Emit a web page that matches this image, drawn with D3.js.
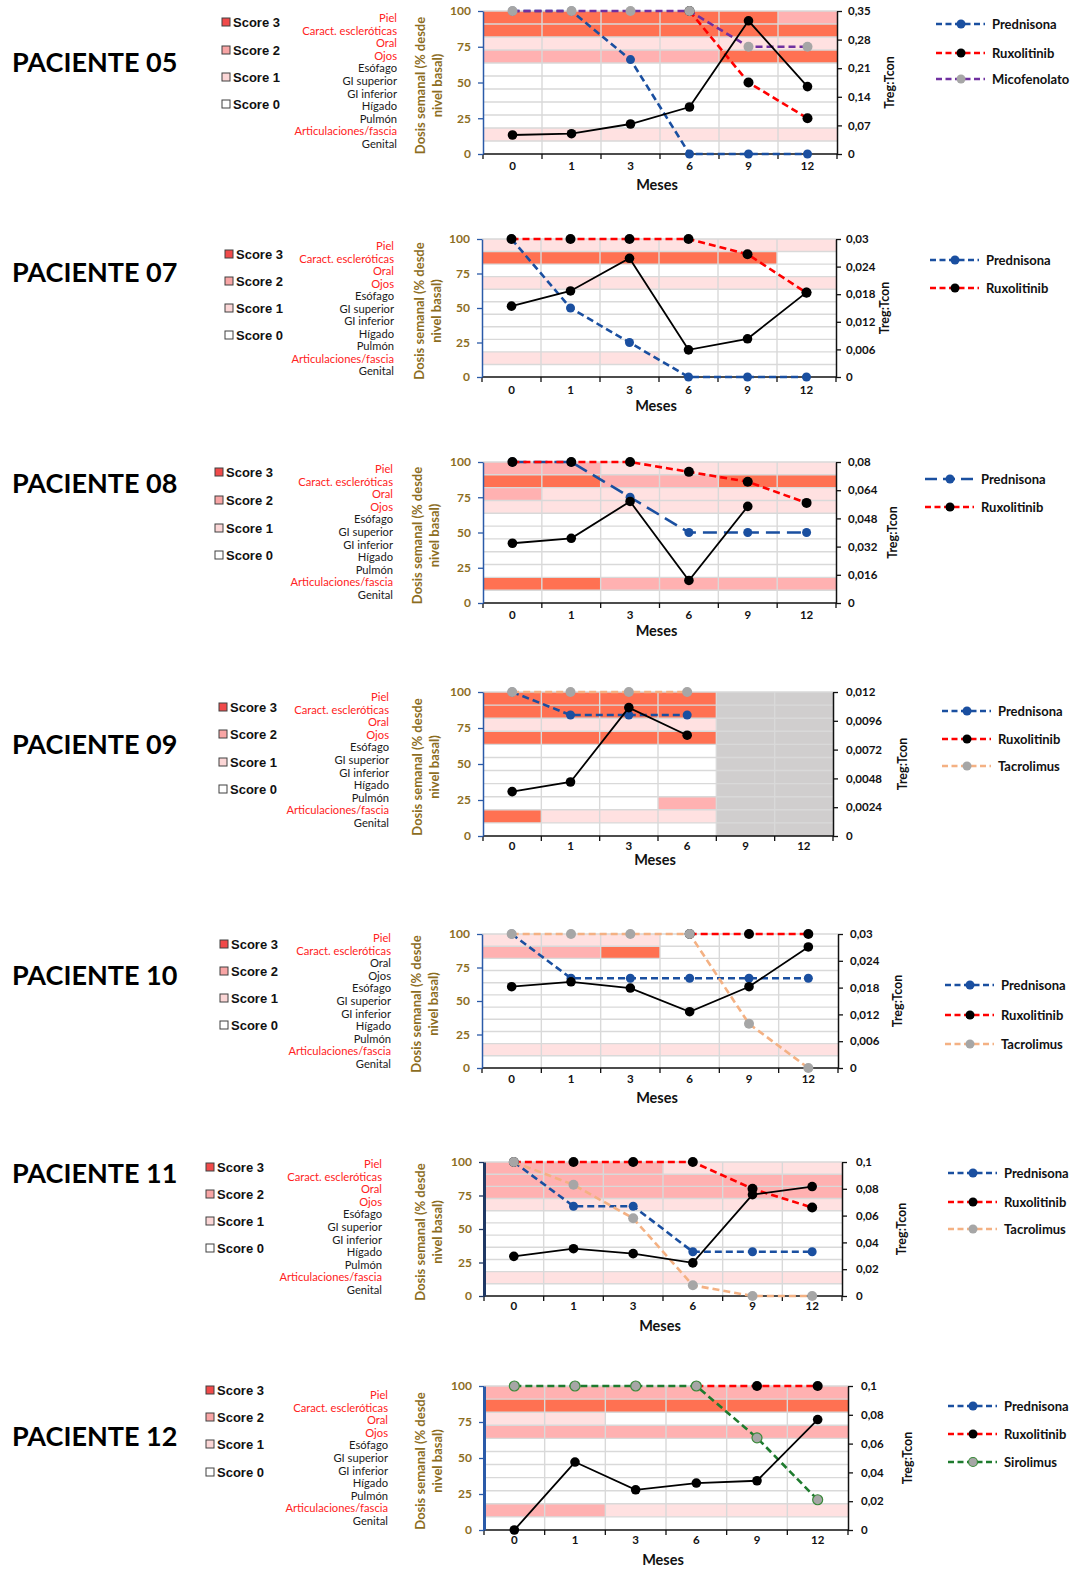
<!DOCTYPE html>
<html><head><meta charset="utf-8">
<script src="https://cdn.jsdelivr.net/npm/d3@7"></script>
<style>body{margin:0;background:#fff}</style>
</head><body><svg id="c" width="1075" height="1571"></svg>
<script>
// ---------- DATA ----------
const months = ["0","1","3","6","9","12"];
const organs = ["Piel","Caract. escleróticas","Oral","Ojos","Esófago","GI superior","GI inferior","Hígado","Pulmón","Articulaciones/fascia","Genital"];
const scoreLabels = ["Score 3","Score 2","Score 1","Score 0"];
const leftTicks = [0,25,50,75,100];
const Z = [0,0,0,0,0,0];

// Paciente 05
const p05Scores = [[3,3,3,3,3,2],[3,3,3,3,3,3],[1,1,1,1,1,1],[2,2,2,2,3,3],Z,Z,Z,Z,Z,[1,1,1,1,1,1],Z];
const p05Involved = [1,1,1,1,0,0,0,0,0,1,0];
const p05Treg = [0.0465,0.0497,0.0734,0.115,0.326,0.165];
const p05Prednisona = [100,100,66,0,0,0];
const p05Ruxolitinib = [null,null,null,100,50,25];
const p05Micofenolato = [100,100,100,100,75,75];
const p05RightTicks = [0,0.07,0.14,0.21,0.28,0.35];

// Paciente 07
const p07Scores = [[1,1,1,1,1,1],[3,3,3,3,3,0],Z,[1,1,1,1,1,1],Z,Z,Z,Z,Z,[1,1,1,0,0,0],Z];
const p07Involved = [1,1,1,1,0,0,0,0,0,1,0];
const p07Treg = [0.0154,0.0187,0.0258,0.0059,0.0083,0.0184];
const p07Prednisona = [100,50,25,0,0,0];
const p07Ruxolitinib = [100,100,100,100,89,61];
const p07RightTicks = [0,0.006,0.012,0.018,0.024,0.03];

// Paciente 08
const p08Scores = [[2,2,1,1,1,1],[3,3,2,2,3,3],[2,1,1,1,1,1],[1,1,1,1,1,1],Z,Z,Z,Z,Z,[3,3,2,2,2,2],Z];
const p08Involved = [1,1,1,1,0,0,0,0,0,1,0];
const p08Treg = [0.0339,0.0367,0.0576,0.0128,0.0548,null];
const p08Prednisona = [100,100,75,50,50,50];
const p08Ruxolitinib = [100,100,100,93,86,71];
const p08RightTicks = [0,0.016,0.032,0.048,0.064,0.08];

// Paciente 09 (-1 = sin datos)
const N = [0,0,0,0,-1,-1];
const p09Scores = [[3,3,3,3,-1,-1],[3,3,3,3,-1,-1],[1,1,1,1,-1,-1],[3,3,3,3,-1,-1],N,N,N,N,[0,0,0,2,-1,-1],[3,1,1,1,-1,-1],N];
const p09Involved = [1,1,1,1,0,0,0,0,0,1,0];
const p09Treg = [0.0037,0.0045,0.0107,0.0084,null,null];
const p09Prednisona = [100,84,84,84,null,null];
const p09Ruxolitinib = [null,null,null,null,null,null];
const p09Tacrolimus = [100,100,100,100,null,null];
const p09RightTicks = [0,0.0024,0.0048,0.0072,0.0096,0.012];

// Paciente 10
const p10Scores = [[1,1,1,0,0,0],[2,2,3,0,0,0],Z,Z,Z,Z,Z,Z,Z,[1,1,1,1,1,1],Z];
const p10Involved = [1,1,0,0,0,0,0,0,0,1,0];
const p10Treg = [0.0182,0.0193,0.0179,0.0126,0.0182,0.0271];
const p10Prednisona = [100,67,67,67,67,67];
const p10Ruxolitinib = [null,null,null,100,100,100];
const p10Tacrolimus = [100,100,100,100,33,0];
const p10RightTicks = [0,0.006,0.012,0.018,0.024,0.03];

// Paciente 11
const p11Scores = [[2,2,2,1,1,1],[2,2,2,2,2,2],[2,2,2,2,2,2],[1,1,1,1,1,1],Z,Z,Z,Z,Z,[1,1,1,1,1,1],Z];
const p11Involved = [1,1,1,1,0,0,0,0,0,1,0];
const p11Treg = [0.0296,0.0353,0.0316,0.0247,0.0756,0.0817];
const p11Prednisona = [100,67,67,33,33,33];
const p11Ruxolitinib = [100,100,100,100,80,66];
const p11Tacrolimus = [100,83,58,8,0,0];
const p11RightTicks = [0,0.02,0.04,0.06,0.08,0.1];

// Paciente 12
const p12Scores = [[2,2,2,2,2,2],[3,3,3,3,3,3],[1,1,0,0,0,0],[2,2,2,2,2,2],Z,Z,Z,Z,Z,[2,2,1,1,1,1],Z];
const p12Involved = [1,1,1,1,0,0,0,0,0,1,0];
const p12Treg = [0,0.0472,0.0279,0.0326,0.0342,0.0767];
const p12Prednisona = [null,null,null,null,null,null];
const p12Ruxolitinib = [null,null,null,100,100,100];
const p12Sirolimus = [100,100,100,100,64,21];
const p12RightTicks = [0,0.02,0.04,0.06,0.08,0.1];

// ---------- STYLES ----------
const drugStyle = {
  "Prednisona":   {line:"#1A4FA0", dot:"#1A4FA0", stroke:"none"},
  "Ruxolitinib":  {line:"#FF0000", dot:"#000000", stroke:"none"},
  "Micofenolato": {line:"#7030A0", dot:"#A6A6A6", stroke:"none"},
  "Tacrolimus":   {line:"#F4B183", dot:"#A6A6A6", stroke:"none"},
  "Sirolimus":    {line:"#1E7B2E", dot:"#A6A6A6", stroke:"#3A8A3A"}
};
const scoreColor = {"3":"#FF7152","2":"#FFB1B1","1":"#FFE1E1","0":"#FFFFFF","-1":"#D0CECE"};
const legendMarker = ["#F04A4A","#F8A5A5","#FBD6D6","#FFFFFF"];
const gold = "#8C6D1F";

const panels = [
 {id:"05", scores:p05Scores, inv:p05Involved, treg:p05Treg, rTicks:p05RightTicks,
  drugs:[["Prednisona",p05Prednisona],["Ruxolitinib",p05Ruxolitinib],["Micofenolato",p05Micofenolato]],
  L:{left:483,right:837,top:11,bottom:154,titleY:62,scoreX:222,scoreY:[22,50,77,104],orgX:397,orgY0:18,orgY1:144,yt:421,rtx:848,tregX:890,legX:936,legY:[24,53,79],xl:13,ms:31,axW:1.5}},
 {id:"07", scores:p07Scores, inv:p07Involved, treg:p07Treg, rTicks:p07RightTicks,
  drugs:[["Prednisona",p07Prednisona],["Ruxolitinib",p07Ruxolitinib]],
  L:{left:482,right:836,top:239,bottom:377,titleY:272,scoreX:225,scoreY:[254,281,308,335],orgX:394,orgY0:246,orgY1:371,yt:420,rtx:846,tregX:885,legX:930,legY:[260,288],xl:14,ms:29,axW:1.5}},
 {id:"08", scores:p08Scores, inv:p08Involved, treg:p08Treg, rTicks:p08RightTicks, predDash:"14,7",
  drugs:[["Prednisona",p08Prednisona],["Ruxolitinib",p08Ruxolitinib]],
  L:{left:483,right:836,top:462,bottom:603,titleY:483,scoreX:215,scoreY:[472,500,528,555],orgX:393,orgY0:469,orgY1:595,yt:418,rtx:848,tregX:893,legX:925,legY:[479,507],xl:13,ms:28,axW:1.5}},
 {id:"09", scores:p09Scores, inv:p09Involved, treg:p09Treg, rTicks:p09RightTicks,
  drugs:[["Prednisona",p09Prednisona],["Ruxolitinib",p09Ruxolitinib],["Tacrolimus",p09Tacrolimus]],
  L:{left:483,right:833,top:692,bottom:836,titleY:744,scoreX:219,scoreY:[707,734,762,789],orgX:389,orgY0:697,orgY1:823,yt:418,rtx:846,tregX:903,legX:942,legY:[711,739,766],xl:11,ms:24,axW:1.5}},
 {id:"10", scores:p10Scores, inv:p10Involved, treg:p10Treg, rTicks:p10RightTicks,
  drugs:[["Prednisona",p10Prednisona],["Ruxolitinib",p10Ruxolitinib],["Tacrolimus",p10Tacrolimus]],
  L:{left:482,right:838,top:934,bottom:1068,titleY:975,scoreX:220,scoreY:[944,971,998,1025],orgX:391,orgY0:938,orgY1:1064,yt:417,rtx:850,tregX:898,legX:945,legY:[985,1015,1044],xl:12,ms:30,axW:1.5}},
 {id:"11", scores:p11Scores, inv:p11Involved, treg:p11Treg, rTicks:p11RightTicks,
  drugs:[["Prednisona",p11Prednisona],["Ruxolitinib",p11Ruxolitinib],["Tacrolimus",p11Tacrolimus]],
  L:{left:484,right:842,top:1162,bottom:1296,titleY:1173,scoreX:206,scoreY:[1167,1194,1221,1248],orgX:382,orgY0:1164,orgY1:1290,yt:421,rtx:856,tregX:902,legX:948,legY:[1173,1202,1229],xl:11,ms:30,axW:3,axC:"#1F3864"}},
 {id:"12", scores:p12Scores, inv:p12Involved, treg:p12Treg, rTicks:p12RightTicks,
  drugs:[["Prednisona",p12Prednisona],["Ruxolitinib",p12Ruxolitinib],["Sirolimus",p12Sirolimus]],
  L:{left:484,right:848,top:1386,bottom:1530,titleY:1436,scoreX:206,scoreY:[1390,1417,1444,1472],orgX:388,orgY0:1395,orgY1:1521,yt:421,rtx:861,tregX:908,legX:948,legY:[1406,1434,1462],xl:11,ms:30,axW:3}}
];

// ---------- DRAW ----------
const svg = d3.select("#c");
const F = "Lato, 'Open Sans', sans-serif";

panels.forEach(p => {
  const L = p.L;
  const g = svg.append("g");
  const x = d3.scaleBand().domain(months).range([L.left, L.right]);
  const yL = d3.scaleLinear().domain([0,100]).range([L.bottom, L.top]);
  const rMax = p.rTicks[p.rTicks.length-1];
  const yR = d3.scaleLinear().domain([0,rMax]).range([L.bottom, L.top]);
  const yRow = d3.scaleBand().domain(organs).range([L.top, L.bottom]);
  const cx = m => x(m) + x.bandwidth()/2;

  // title
  g.append("text").attr("x",12).attr("y",L.titleY+10).attr("font-family",F).attr("font-weight",700)
    .attr("font-size",27).attr("fill","#000").text("PACIENTE " + p.id);

  // score legend
  const sl = g.append("g");
  scoreLabels.forEach((s,i) => {
    sl.append("rect").attr("x",L.scoreX).attr("y",L.scoreY[i]-4).attr("width",8).attr("height",8)
      .attr("fill",legendMarker[i]).attr("stroke","#404040").attr("stroke-width",1);
    sl.append("text").attr("x",L.scoreX+11).attr("y",L.scoreY[i]+4.5).attr("font-family","'Liberation Sans', Arial, sans-serif")
      .attr("font-weight",700).attr("font-size",13).attr("fill","#111").text(s);
  });

  // organ labels
  const oy = d3.scalePoint().domain(organs).range([L.orgY0, L.orgY1]);
  g.append("g").selectAll("text").data(organs).join("text")
    .attr("x",L.orgX).attr("y",d=>oy(d)+4).attr("text-anchor","end")
    .attr("font-family",F).attr("font-size",11.2)
    .attr("fill",(d,i)=>p.inv[i] ? "#FF2222" : "#1a1a1a").text(d=>d);

  // heatmap cells
  const cells = [];
  p.scores.forEach((row,i)=>row.forEach((s,j)=>cells.push({o:organs[i],m:months[j],s})));
  g.append("g").selectAll("rect").data(cells).join("rect")
    .attr("x",d=>x(d.m)).attr("y",d=>yRow(d.o)).attr("width",x.bandwidth()).attr("height",yRow.bandwidth())
    .attr("fill",d=>scoreColor[String(d.s)]);

  // gridlines
  const gl = g.append("g").attr("stroke","#D9D9D9").attr("stroke-width",1.4);
  organs.slice(1).forEach(o => gl.append("line").attr("x1",L.left).attr("x2",L.right).attr("y1",yRow(o)).attr("y2",yRow(o)));
  gl.append("line").attr("x1",L.left).attr("x2",L.right).attr("y1",L.top).attr("y2",L.top);
  months.slice(1).forEach(m => gl.append("line").attr("x1",x(m)).attr("x2",x(m)).attr("y1",L.top).attr("y2",L.bottom));

  // x axis
  const xa = g.append("g").attr("transform",`translate(0,${L.bottom})`)
    .call(d3.axisBottom(x).tickSize(0).tickPadding(L.xl-5));
  xa.select(".domain").remove();
  xa.selectAll("text").attr("font-family",F).attr("font-weight",700).attr("font-size",11.5).attr("fill","#111");
  g.append("line").attr("x1",L.left).attr("x2",L.right).attr("y1",L.bottom).attr("y2",L.bottom).attr("stroke","#111").attr("stroke-width",1.5);
  months.concat(["_end"]).forEach((m,i) => {
    const xx = i < months.length ? x(m) : L.right;
    g.append("line").attr("x1",xx).attr("x2",xx).attr("y1",L.bottom).attr("y2",L.bottom+5).attr("stroke","#111").attr("stroke-width",1.3);
  });
  g.append("text").attr("x",(L.left+L.right)/2 - 3).attr("y",L.bottom+L.ms+5).attr("text-anchor","middle")
    .attr("font-family",F).attr("font-weight",700).attr("font-size",14.5).attr("fill","#111").text("Meses");

  // left axis
  const axC = L.axC || "#2A5AA8";
  const la = g.append("g").attr("transform",`translate(${L.left},0)`)
    .call(d3.axisLeft(yL).tickValues(leftTicks).tickSize(5).tickSizeOuter(0).tickPadding(7));
  la.select(".domain").attr("stroke",axC).attr("stroke-width",L.axW);
  la.selectAll(".tick line").attr("stroke",axC).attr("stroke-width",1.3);
  la.selectAll("text").attr("font-family",F).attr("font-weight",700).attr("font-size",12).attr("fill",gold);

  // left title
  const ymid = (L.top+L.bottom)/2 + 3;
  g.append("text").attr("transform",`translate(${L.yt+4},${ymid}) rotate(-90)`).attr("text-anchor","middle")
    .attr("font-family",F).attr("font-weight",700).attr("font-size",13).attr("fill",gold).text("Dosis semanal (% desde");
  g.append("text").attr("transform",`translate(${L.yt+21},${ymid}) rotate(-90)`).attr("text-anchor","middle")
    .attr("font-family",F).attr("font-weight",700).attr("font-size",13).attr("fill",gold).text("nivel basal)");

  // right axis
  const ra = g.append("g").attr("transform",`translate(${L.right},0)`)
    .call(d3.axisRight(yR).tickValues(p.rTicks).tickSize(5).tickSizeOuter(0).tickPadding(L.rtx-L.right-5)
      .tickFormat(v => String(v).replace(".",",")));
  ra.select(".domain").attr("stroke","#111").attr("stroke-width",1.5);
  ra.selectAll(".tick line").attr("stroke","#111").attr("stroke-width",1.3);
  ra.selectAll("text").attr("font-family",F).attr("font-weight",700).attr("font-size",11.5).attr("fill","#111");
  g.append("text").attr("transform",`translate(${L.tregX+4},${(L.top+L.bottom)/2}) rotate(-90)`).attr("text-anchor","middle")
    .attr("font-family",F).attr("font-weight",700).attr("font-size",12.5).attr("fill","#111").text("Treg:Tcon");

  // drug lines
  p.drugs.forEach(([name, vals]) => {
    const st = drugStyle[name];
    const data = vals.map((v,i)=>({m:months[i], v}));
    const dash = (name==="Prednisona" && p.predDash) ? p.predDash : "7,4";
    g.append("path").datum(data)
      .attr("d", d3.line().defined(d=>d.v!=null).x(d=>cx(d.m)).y(d=>yL(d.v)))
      .attr("fill","none").attr("stroke",st.line).attr("stroke-width",2.6).attr("stroke-dasharray",dash);
  });
  p.drugs.forEach(([name, vals]) => {
    const st = drugStyle[name];
    const data = vals.map((v,i)=>({m:months[i], v})).filter(d=>d.v!=null);
    g.append("g").selectAll("circle").data(data).join("circle")
      .attr("cx",d=>cx(d.m)).attr("cy",d=>yL(d.v)).attr("r",name==="Prednisona"?4.5:5)
      .attr("fill",st.dot).attr("stroke",st.stroke).attr("stroke-width",1.2);
  });

  // Treg line
  const td = p.treg.map((v,i)=>({m:months[i], v}));
  g.append("path").datum(td)
    .attr("d", d3.line().defined(d=>d.v!=null).x(d=>cx(d.m)).y(d=>yR(d.v)))
    .attr("fill","none").attr("stroke","#000").attr("stroke-width",1.8);
  g.append("g").selectAll("circle").data(td.filter(d=>d.v!=null)).join("circle")
    .attr("cx",d=>cx(d.m)).attr("cy",d=>yR(d.v)).attr("r",4.8).attr("fill","#000");

  // drug legend
  p.drugs.forEach(([name], i) => {
    const st = drugStyle[name];
    const y = L.legY[i];
    const dash = (name==="Prednisona" && p.predDash) ? "12,6" : "6,3.5";
    g.append("line").attr("x1",L.legX).attr("x2",L.legX+49).attr("y1",y).attr("y2",y)
      .attr("stroke",st.line).attr("stroke-width",2.6).attr("stroke-dasharray",dash);
    g.append("circle").attr("cx",L.legX+25).attr("cy",y).attr("r",4.5).attr("fill",st.dot).attr("stroke",st.stroke).attr("stroke-width",1.2);
    g.append("text").attr("x",L.legX+56).attr("y",y+4.5).attr("font-family",F).attr("font-weight",700)
      .attr("font-size",13).attr("fill","#111").text(name);
  });
});
</script>
</body></html>
